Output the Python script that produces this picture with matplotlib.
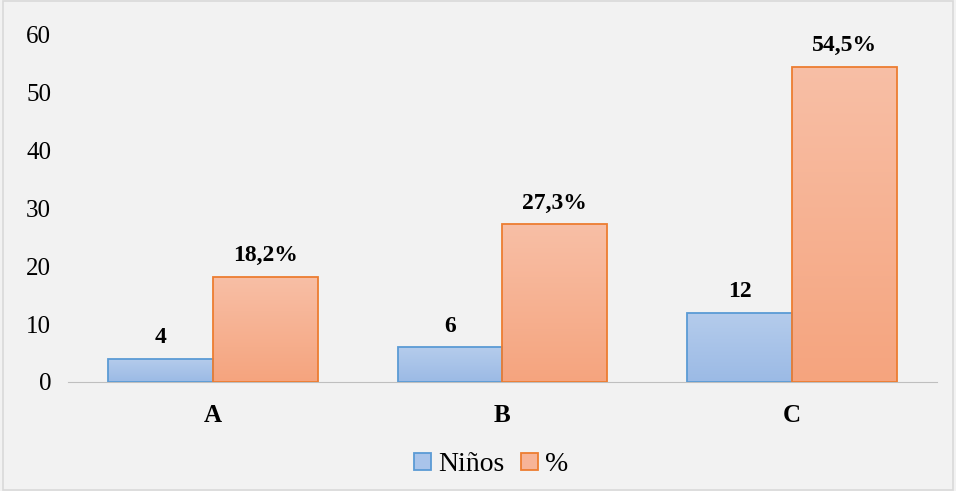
import numpy as np
import matplotlib
matplotlib.use("Agg")
import matplotlib.pyplot as plt
from matplotlib.colors import LinearSegmentedColormap

plt.rcParams['font.family'] = ['Liberation Serif', 'DejaVu Serif']

categories = ["A", "B", "C"]
ninos = [4, 6, 12]
pct = [18.2, 27.3, 54.5]
pct_labels = ["18,2%", "27,3%", "54,5%"]

fig = plt.figure(figsize=(9.56, 4.91), dpi=100, facecolor="#F2F2F2")
ax = fig.add_axes([0.071, 0.222, 0.909, 0.707], facecolor="#F2F2F2")

x = np.arange(len(categories))
w = 0.362
blue_cmap = LinearSegmentedColormap.from_list("b", ["#9BBAE5", "#B5CCEC"])
orng_cmap = LinearSegmentedColormap.from_list("o", ["#F5A47E", "#F8BFA6"])
grad = np.linspace(0, 1, 256).reshape(-1, 1)

def gradient_bars(xs, vals, cmap, edge, label):
    bars = ax.bar(xs, vals, w, color="none", edgecolor=edge, linewidth=1.3, label=label, zorder=3)
    for b in bars:
        x0 = b.get_x()
        im = ax.imshow(grad, cmap=cmap, origin="lower", aspect="auto",
                       extent=[x0, x0 + b.get_width(), 0, b.get_height()], zorder=2)
        im.set_clip_path(b)
    return bars

gradient_bars(x - w / 2, ninos, blue_cmap, "#5B9BD5", "Niños")
gradient_bars(x + w / 2, pct, orng_cmap, "#ED7D31", "%")

for i in range(len(categories)):
    ax.text(x[i] - w / 2, ninos[i] + 1.8, str(ninos[i]), ha="center", va="bottom",
            fontsize=17, fontweight="bold")
    ax.text(x[i] + w / 2, pct[i] + 1.8, pct_labels[i], ha="center", va="bottom",
            fontsize=17, fontweight="bold")

ax.set_xlim(-0.5, 2.5)
ax.set_ylim(0, 60)
ax.set_yticks(range(0, 61, 10))
ax.set_xticks(x)
ax.set_xticklabels(categories, fontweight="bold")
ax.tick_params(axis="y", length=0, labelsize=18, pad=12)
ax.tick_params(axis="x", length=0, labelsize=18, pad=16)
for s in ["top", "right", "left"]:
    ax.spines[s].set_visible(False)
ax.spines["bottom"].set_color("#BFBFBF")

leg = ax.legend(loc="upper center", bbox_to_anchor=(0.487, -0.13), ncol=2, frameon=False,
                fontsize=20, handlelength=0.6, handleheight=0.6, handletextpad=0.25,
                columnspacing=0.6)
for h, fc in zip(leg.legend_handles, ["#A9C4EA", "#F7B497"]):
    h.set_facecolor(fc)

fig.patches.append(plt.Rectangle((0.003, 0.003), 0.994, 0.994, transform=fig.transFigure,
                                 fill=False, edgecolor="#D9D9D9", linewidth=1.2))

fig.savefig("out.png", dpi=100, facecolor=fig.get_facecolor())
